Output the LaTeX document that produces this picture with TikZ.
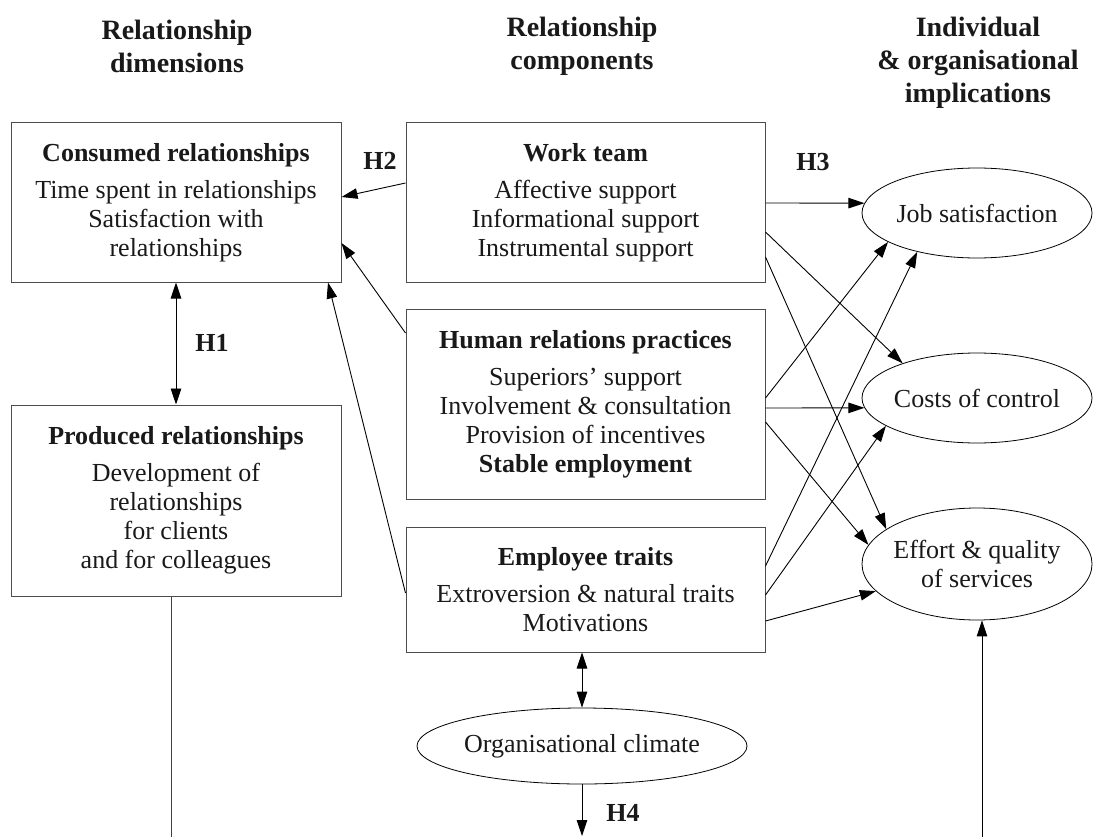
\documentclass[tikz,border=0pt]{standalone}
\usepackage{fontspec}
\setmainfont{Liberation Serif}
\usetikzlibrary{arrows.meta,shapes.geometric}
\begin{document}
\begin{tikzpicture}[x=1pt,y=-1pt,
  box/.style={draw=black!70, line width=1pt, rectangle, inner sep=0pt, align=center,
    font=\fontsize{26}{29}\selectfont, text=black!90},
  oval/.style={draw=black, line width=0.8pt, ellipse, inner sep=-10pt, align=center,
    font=\fontsize{26}{29}\selectfont, text=black!90},
  head/.style={align=center, font=\fontsize{28}{33}\selectfont\bfseries, text=black!90},
  hlab/.style={font=\fontsize{26}{29}\selectfont\bfseries, text=black!90},
  conn/.style={-{Triangle[length=16pt,width=10.5pt]}, line width=0.9pt},
  dconn/.style={{Triangle[length=16pt,width=10.5pt]}-{Triangle[length=16pt,width=10.5pt]}, line width=0.9pt},
  plain/.style={line width=1pt, draw=black!75}]
\useasboundingbox (0,0) rectangle (1094,837);

% headers
\node[head] (hd1) at (177,46) {Relationship\\dimensions};
\node[head] (hd2) at (582,46) {Relationship\\components};
\node[head] (hd3) at (978,63) {Individual\\\& organisational\\implications};

% boxes
\node[box, minimum width=330pt, minimum height=159pt] (cons) at (176,202.5)
  {\textbf{Consumed relationships}\\[8pt]Time spent in relationships\\Satisfaction with\\relationships};
\node[box, minimum width=330pt, minimum height=191pt] (prod) at (176,500.5)
  {\textbf{Produced relationships}\\[8pt]Development of\\relationships\\for clients\\and for colleagues};
\node[box, minimum width=359pt, minimum height=159pt] (wt) at (585.5,202.5)
  {\textbf{Work team}\\[8pt]Affective support\\Informational support\\Instrumental support};
\node[box, minimum width=359pt, minimum height=190pt] (hr) at (585.5,404)
  {\textbf{Human relations practices}\\[8pt]Superiors' support\\Involvement \& consultation\\Provision of incentives\\\textbf{Stable employment}};
\node[box, minimum width=359pt, minimum height=125pt] (et) at (585.5,589.5)
  {\textbf{Employee traits}\\[8pt]Extroversion \& natural traits\\Motivations};

% ellipses
\node[oval, minimum width=230pt, minimum height=90pt] (js) at (977,213) {Job satisfaction};
\node[oval, minimum width=230pt, minimum height=90pt] (co) at (977,398) {Costs of control};
\node[oval, minimum width=230pt, minimum height=112pt] (ef) at (977,564) {Effort \& quality\\of services};
\node[oval, minimum width=330pt, minimum height=76pt] (oc) at (582,746) {Organisational climate};

% hypothesis labels
\node[hlab] (lh1) at (212,343) {H1};
\node[hlab] (lh2) at (380,161) {H2};
\node[hlab] (lh3) at (813,162) {H3};
\node[hlab] (lh4) at (623,813) {H4};

% H1
\draw[dconn] (cons.south) -- (prod.north);

% to consumed relationships
\draw[conn] ([yshift=19.5pt]wt.west) -- ([yshift=5.5pt]cons.east);
\draw[conn] ([yshift=71pt]hr.west) -- ([yshift=-40.5pt]cons.east);
\draw[conn] ([yshift=-3.5pt]et.west) -- ([xshift=152pt]cons.south);

% work team
\draw[conn] ([yshift=-0.5pt]wt.east) -- (js.175);
\draw[conn] ([yshift=-29.5pt]wt.east) -- (co.155);
\draw[conn] ([yshift=-54.5pt]wt.east) -- (ef.159);
% human relations
\draw[conn] ([yshift=6pt]hr.east) -- (js.198.6);
\draw[conn] ([yshift=-4pt]hr.east) -- (co.185);
\draw[conn] ([yshift=-18pt]hr.east) -- (ef.170);
% employee traits
\draw[conn] ([yshift=23.5pt]et.east) -- (js.213);
\draw[conn] ([yshift=-5.5pt]et.east) -- (co.197);
\draw[conn] ([yshift=-31.5pt]et.east) -- (ef.195);

% climate
\draw[dconn] (oc.north) -- (oc.north |- et.south);
\coordinate (b3) at (582,836);
\draw[conn] (oc.south) -- (b3);

% bottom lines
\coordinate (b1) at (171,837);
\draw[plain] (b1 |- prod.south) -- (b1);
\coordinate (b2) at (982,837);
\draw[conn] (b2) -- (b2 |- ef.south);
\end{tikzpicture}
\end{document}
